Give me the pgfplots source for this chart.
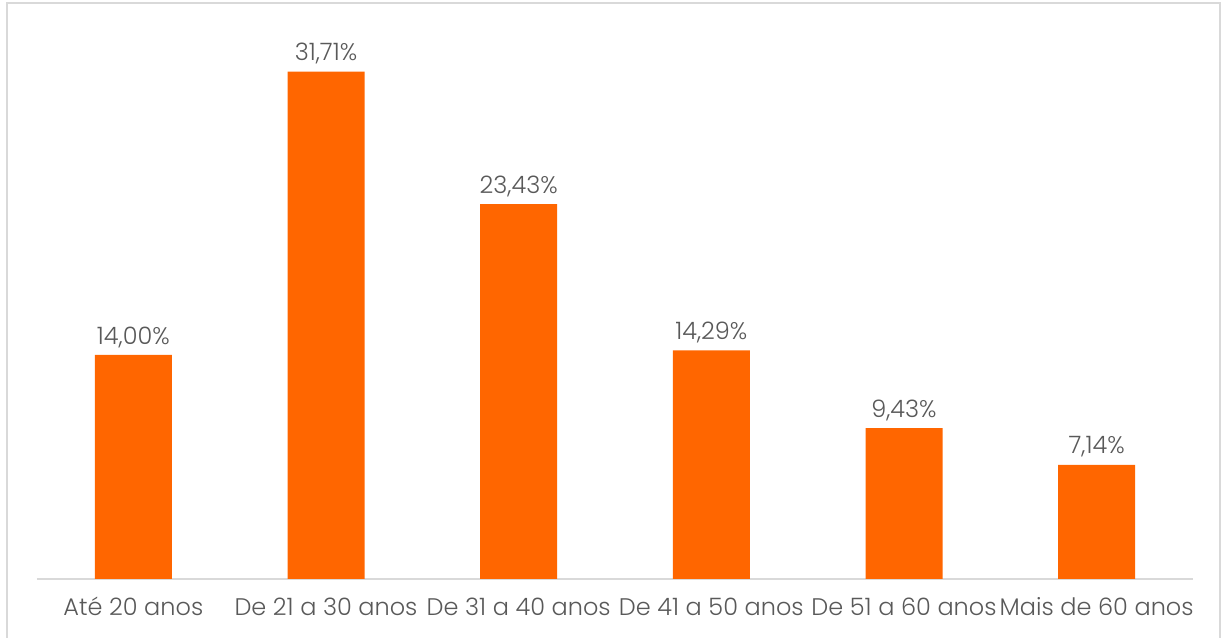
\documentclass[border=0pt]{standalone}
\usepackage{pgfplots}
\pgfplotsset{compat=1.18}
\usepackage{fontspec}
\setmainfont{Poppins}[UprightFont={* Light}]
\definecolor{barorange}{HTML}{FF6600}
\definecolor{txtgray}{HTML}{595959}
\definecolor{linegray}{HTML}{D9D9D9}
\begin{document}
\begin{tikzpicture}
\useasboundingbox (-27.75pt,-44.25pt) rectangle (889.5pt,434.25pt);
\draw[linegray, line width=1.2pt] (-22.5pt,-60pt) rectangle (887.25pt,432pt);
\begin{axis}[
  scale only axis,
  width=867pt, height=420pt,
  xmin=-0.5, xmax=5.5, ymin=0, ymax=35,
  axis y line=none,
  axis x line*=bottom,
  x axis line style={linegray, line width=1.2pt, -},
  xtick=data,
  xticklabels={Até 20 anos, De 21 a 30 anos, De 31 a 40 anos, De 41 a 50 anos, De 51 a 60 anos, Mais de 60 anos},
  typeset ticklabels with strut,
  major tick length=0pt,
  xticklabel style={text=txtgray, font=\fontsize{18pt}{21pt}\selectfont, yshift=-9.5pt},
  ybar, bar width=57.75pt,
  nodes near coords={\pgfmathprintnumber[fixed,fixed zerofill,precision=2,use comma,assume math mode=true]{\pgfplotspointmeta}\%},
  nodes near coords style={text=txtgray, font=\fontsize{18pt}{21pt}\selectfont, anchor=south, yshift=2pt},
  /pgf/number format/assume math mode=true,
]
\addplot[fill=barorange, draw=none] coordinates {(0,14.00) (1,31.71) (2,23.43) (3,14.29) (4,9.43) (5,7.14)};
\end{axis}
\end{tikzpicture}
\end{document}
